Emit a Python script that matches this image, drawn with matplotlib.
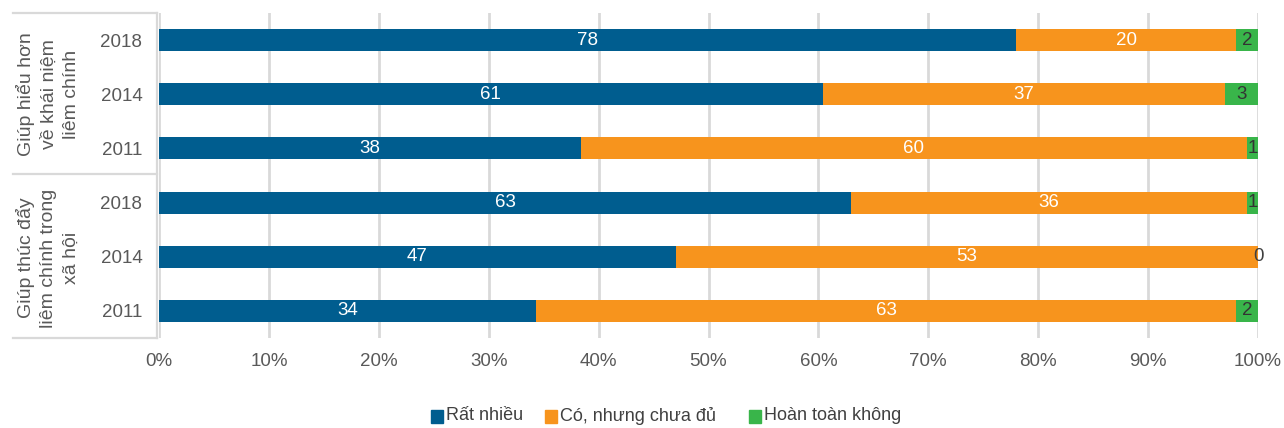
import matplotlib
matplotlib.use("Agg")
import matplotlib.pyplot as plt
from matplotlib.patches import Rectangle
from matplotlib.lines import Line2D
import numpy as np

plt.rcParams['font.family'] = ['Liberation Sans', 'DejaVu Sans']

years = ["2018", "2014", "2011", "2018", "2014", "2011"]
groups = ["Giúp hiểu hơn\nvề khái niệm\nliêm chính", "Giúp thúc đẩy\nliêm chính trong\nxã hội"]
series_names = ["Rất nhiều", "Có, nhưng chưa đủ", "Hoàn toàn không"]
rat_nhieu = [78, 61, 38, 63, 47, 34]
co_chua_du = [20, 37, 60, 36, 53, 63]
hoan_toan_khong = [2, 3, 1, 1, 0, 2]
colors = ["#005D8F", "#F7941D", "#39B54A"]
label_colors = ["white", "white", "#333333"]
xticks = [0, 10, 20, 30, 40, 50, 60, 70, 80, 90, 100]

W, H = 1284, 428
fig = plt.figure(figsize=(W / 100, H / 100), dpi=100)
ax = fig.add_axes([159 / W, 1 - 338 / H, (1258 - 159) / W, (338 - 13) / H])

vals = np.array([rat_nhieu, co_chua_du, hoan_toan_khong], dtype=float)
totals = vals.sum(axis=0)
pct = vals / totals * 100
y = np.arange(len(years))
left = np.zeros(len(years))
for i in range(3):
    ax.barh(y, pct[i], left=left, height=0.405, color=colors[i], zorder=3)
    for j in range(len(years)):
        c = label_colors[i] if vals[i, j] > 0 else "#404040"
        ax.text(left[j] + pct[i, j] / 2, y[j], f"{int(vals[i, j])}", ha="center", va="center",
                color=c, fontsize=13.5, zorder=4)
    left += pct[i]

ax.set_xlim(0, 100)
ax.set_ylim(len(years) - 0.5, -0.5)
ax.set_yticks(y)
ax.set_yticklabels(years)
ax.set_xticks(xticks)
ax.set_xticklabels([f"{t}%" for t in xticks])
ax.tick_params(axis="both", length=0, labelsize=13.5, labelcolor="#595959")
ax.tick_params(axis="y", pad=12)
ax.tick_params(axis="x", pad=11)
ax.grid(axis="x", color="#D9D9D9", linewidth=2, zorder=0)
for s in ax.spines.values():
    s.set_visible(False)

# group box lines
lc = "#D9D9D9"
def fx(px):
    return px / W
def fy(py):
    return 1 - py / H
for (x0, y0, x1, y1) in [(13, 13, 157, 13), (157, 13, 157, 338), (13, 174, 157, 174), (13, 338, 157, 338)]:
    fig.add_artist(Line2D([fx(x0), fx(x1)], [fy(y0), fy(y1)], color=lc, linewidth=1.6))

fig.text(fx(48), fy(94), groups[0], rotation=90, ha="center", va="center", fontsize=14,
         color="#595959", multialignment="center", linespacing=1.4)
fig.text(fx(48), fy(258), groups[1], rotation=90, ha="center", va="center", fontsize=14,
         color="#595959", multialignment="center", linespacing=1.4)

# legend
leg_x = [431, 545, 749]
for i in range(3):
    fig.add_artist(Rectangle((fx(leg_x[i]), fy(423)), 12 / W, 13 / H, color=colors[i],
                             transform=fig.transFigure))
    fig.text(fx(leg_x[i] + 15), fy(416), series_names[i], ha="left", va="center",
             fontsize=13, color="#404040")

fig.savefig("out.png", dpi=100)
